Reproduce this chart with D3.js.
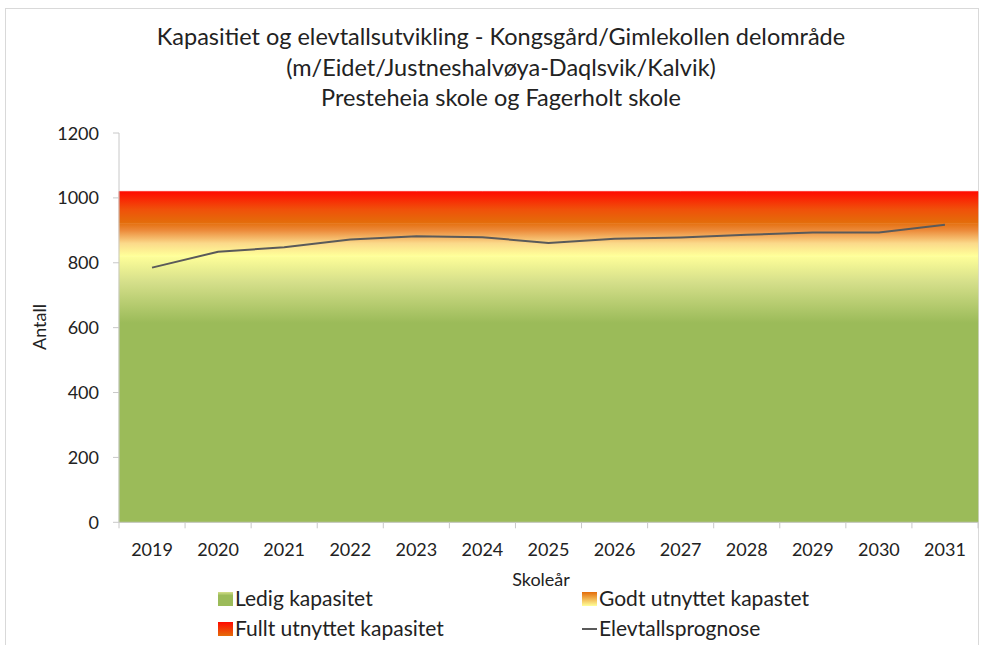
<!DOCTYPE html>
<html><head><meta charset="utf-8">
<script src="https://cdn.jsdelivr.net/npm/d3@7"></script>
<style>
html,body{margin:0;padding:0;background:#fff;}
text{font-family:Lato,"Open Sans",sans-serif;fill:#222;}
</style></head>
<body>
<svg id="chart" width="981" height="645"></svg>
<script>
const titleLines = ["Kapasitiet og elevtallsutvikling - Kongsgård/Gimlekollen delområde",
  "(m/Eidet/Justneshalvøya-Daqlsvik/Kalvik)",
  "Presteheia skole og Fagerholt skole"];
const categories = ["2019","2020","2021","2022","2023","2024","2025","2026","2027","2028","2029","2030","2031"];
const ledig = [820,820,820,820,820,820,820,820,820,820,820,820,820];
const godt  = [100,100,100,100,100,100,100,100,100,100,100,100,100];
const fullt = [100,100,100,100,100,100,100,100,100,100,100,100,100];
const elevtall = [785,834,848,872,882,879,861,874,878,886,893,893,917];
const yTicks = [0,200,400,600,800,1000,1200];
const legendLabels = ["Ledig kapasitet","Godt utnyttet kapastet","Fullt utnyttet kapasitet","Elevtallsprognose"];

const svg = d3.select("#chart");
const m = {left:119, right:3, top:133, bottom:122.7};
const W = 981, H = 645;
const iw = W - m.left - m.right, ih = H - m.top - m.bottom;

// outer border
svg.append("rect").attr("x",5.5).attr("y",8.5).attr("width",973).attr("height",645)
  .attr("fill","none").attr("stroke","#d9d9d9");

// title
svg.append("g").selectAll("text").data(titleLines).join("text")
  .attr("x",501).attr("y",(d,i)=>45+i*30.5).attr("text-anchor","middle")
  .attr("font-size",23.5).text(d=>d);

const g = svg.append("g").attr("transform",`translate(${m.left},${m.top})`);
const x = d3.scaleBand().domain(categories).range([0,iw]);
const y = d3.scaleLinear().domain([0,1200]).range([ih,0]);

// gradient (in user space along value axis)
const defs = svg.append("defs");
const grad = defs.append("linearGradient").attr("id","capgrad")
  .attr("gradientUnits","userSpaceOnUse").attr("x1",0).attr("x2",0)
  .attr("y1",y(0)).attr("y2",y(1020));
const stops = [[0,"#9BBB59"],[615,"#9BBB59"],[740,"#D5DF8A"],[822,"#FFFF99"],[860,"#FBD98A"],[900,"#EC8A3A"],[925,"#E46C0A"],[965,"#F0500A"],[1020,"#FF0A00"]];
grad.selectAll("stop").data(stops).join("stop")
  .attr("offset",d=>d[0]/1020).attr("stop-color",d=>d[1]);

// stacked areas
const rows = categories.map((c,i)=>({cat:c,i,ledig:ledig[i],godt:godt[i],fullt:fullt[i]}));
const stack = d3.stack().keys(["ledig","godt","fullt"])(rows);
const xEdge = d => d.data.i===0 ? x(d.data.cat) : d.data.i===categories.length-1 ? x(d.data.cat)+x.bandwidth() : x(d.data.cat)+x.bandwidth()/2;
const area = d3.area().x(xEdge).y0(d=>y(d[0])).y1(d=>y(d[1]));
g.selectAll(".area").data(stack).join("path").attr("class","area")
  .attr("d",area).attr("fill","url(#capgrad)").attr("stroke","url(#capgrad)").attr("stroke-width",0.6);

// axes
const axisColor = "#c8c8c8";
g.append("line").attr("x1",0).attr("x2",0).attr("y1",0).attr("y2",ih).attr("stroke",axisColor);
g.append("line").attr("x1",0).attr("x2",iw).attr("y1",ih).attr("y2",ih).attr("stroke",axisColor);
g.selectAll(".yt").data(yTicks).join("line").attr("x1",-6).attr("x2",0)
  .attr("y1",d=>y(d)).attr("y2",d=>y(d)).attr("stroke",axisColor);
g.selectAll(".ytl").data(yTicks).join("text").attr("x",-20).attr("y",d=>y(d)+6.5)
  .attr("text-anchor","end").attr("font-size",18).text(d=>d);
const bounds = categories.map(c=>x(c)).concat([iw]);
g.selectAll(".xt").data(bounds).join("line").attr("x1",d=>d).attr("x2",d=>d)
  .attr("y1",ih).attr("y2",ih+6).attr("stroke",axisColor);
g.selectAll(".xtl").data(categories).join("text").attr("x",d=>x(d)+x.bandwidth()/2)
  .attr("y",ih+34).attr("text-anchor","middle").attr("font-size",18).text(d=>d);

// line
const line = d3.line().x((d,i)=>x(categories[i])+x.bandwidth()/2).y(d=>y(d));
g.append("path").datum(elevtall).attr("d",line).attr("fill","none")
  .attr("stroke","#5a5a5a").attr("stroke-width",2);

// axis titles
svg.append("text").attr("transform","translate(46,327) rotate(-90)").attr("text-anchor","middle")
  .attr("font-size",18).text("Antall");
svg.append("text").attr("x",541).attr("y",586).attr("text-anchor","middle")
  .attr("font-size",18).text("Skoleår");

// legend
const lg = defs.append("linearGradient").attr("id","lgGodt").attr("x1",0).attr("x2",0).attr("y1",1).attr("y2",0);
lg.append("stop").attr("offset",0).attr("stop-color","#FFFF99");
lg.append("stop").attr("offset",1).attr("stop-color","#E46C0A");
const lf = defs.append("linearGradient").attr("id","lgFullt").attr("x1",0).attr("x2",0).attr("y1",1).attr("y2",0);
lf.append("stop").attr("offset",0).attr("stop-color","#E46C0A");
lf.append("stop").attr("offset",1).attr("stop-color","#FF0A00");
const lgl = defs.append("linearGradient").attr("id","lgLedig").attr("x1",0).attr("x2",0).attr("y1",1).attr("y2",0);
lgl.append("stop").attr("offset",0).attr("stop-color","#9BBB59");
lgl.append("stop").attr("offset",0.75).attr("stop-color","#9BBB59");
lgl.append("stop").attr("offset",1).attr("stop-color","#D5DF8A");
const legendPos = [[218,599],[582,599],[218,629],[582,629]];
const fills = ["url(#lgLedig)","url(#lgGodt)","url(#lgFullt)",null];
legendLabels.forEach((lab,i)=>{
  const [lx,ly] = legendPos[i];
  if (fills[i]) {
    svg.append("rect").attr("x",lx).attr("y",ly-7).attr("width",15).attr("height",14).attr("fill",fills[i]);
  } else {
    svg.append("line").attr("x1",lx).attr("x2",lx+15).attr("y1",ly).attr("y2",ly).attr("stroke","#5a5a5a").attr("stroke-width",2);
  }
  svg.append("text").attr("x",lx+17).attr("y",ly+7).attr("font-size",21).text(lab);
});
</script>
</body></html>
